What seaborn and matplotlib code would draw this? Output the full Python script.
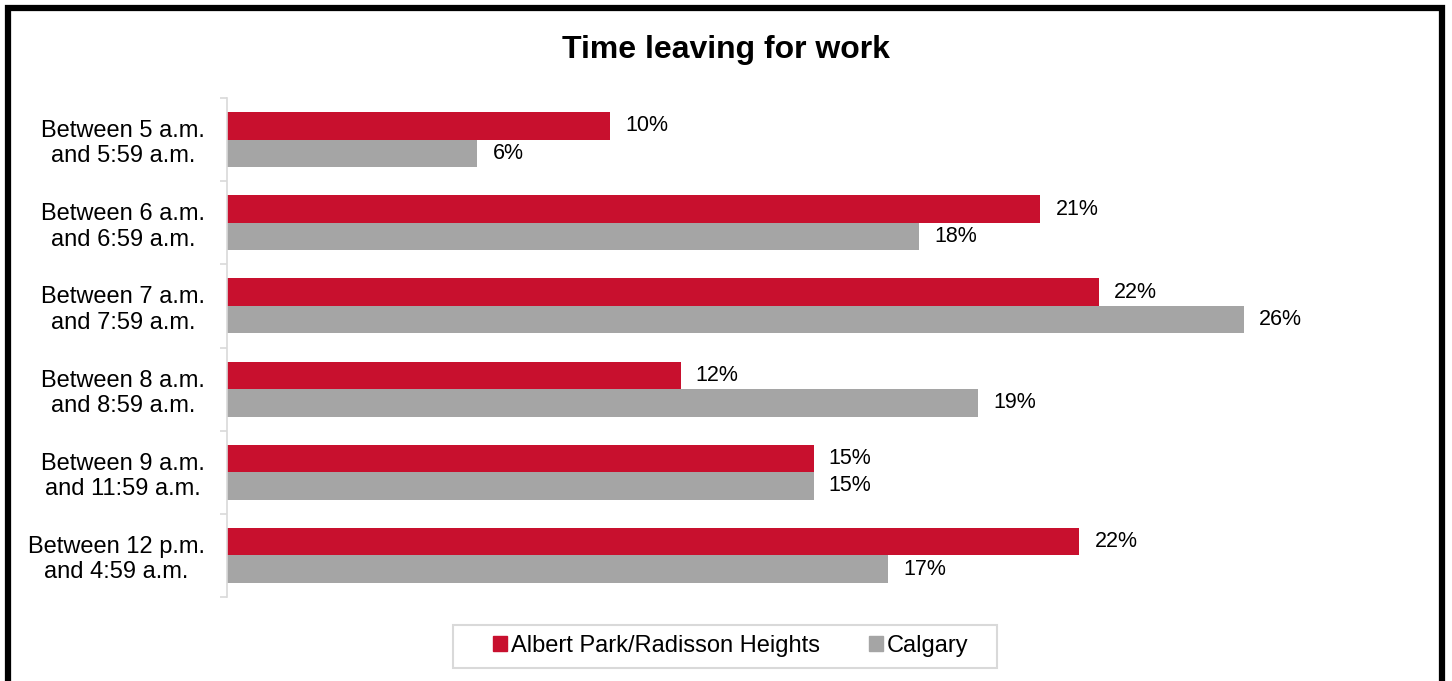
import matplotlib
matplotlib.use("Agg")
import matplotlib.pyplot as plt
import matplotlib.patches as mpatches
import seaborn as sns
import pandas as pd
import numpy as np

categories = ["Between 5 a.m.\nand 5:59 a.m.", "Between 6 a.m.\nand 6:59 a.m.",
              "Between 7 a.m.\nand 7:59 a.m.", "Between 8 a.m.\nand 8:59 a.m.",
              "Between 9 a.m.\nand 11:59 a.m.", "Between 12 p.m.\nand 4:59 a.m."]
series = ["Albert Park/Radisson Heights", "Calgary"]
albert_park = [9.8, 20.8, 22.3, 11.6, 15.0, 21.8]
calgary = [6.4, 17.7, 26.0, 19.2, 15.0, 16.9]
colors = ["#C8102E", "#A5A5A5"]

df = pd.DataFrame({
    "category": categories * 2,
    "series": [series[0]] * len(categories) + [series[1]] * len(categories),
    "value": albert_park + calgary,
})

sns.set_theme(style="white")
plt.rcParams["font.family"] = ["Liberation Sans", "DejaVu Sans"]

W, H = 1452, 681
fig = plt.figure(figsize=(W / 100, H / 100), dpi=100)
ax = fig.add_axes([227/W, 1-597/H, (1400-227)/W, (597-98)/H])

sns.barplot(data=df, x="value", y="category", hue="series", orient="h",
            palette=colors, width=0.66, ax=ax, legend=False, saturation=1,
            order=categories, hue_order=series, linewidth=0)

for cont in ax.containers:
    ax.bar_label(cont, labels=[f"{v:.0f}%" for v in cont.datavalues],
                 padding=11, fontsize=15.5, color="#000000")

ax.set_xlim(0, 30)
ax.set_ylim(len(categories) - 0.5, -0.5)
ax.set_xlabel("")
ax.set_ylabel("")
ax.set_xticks([])
for s in ["top", "right", "bottom"]:
    ax.spines[s].set_visible(False)
ax.spines["left"].set_color("#D9D9D9")
ax.spines["left"].set_linewidth(1.2)

ax.set_yticks(np.arange(len(categories)))
ax.set_yticklabels(categories, fontsize=17, multialignment="center", color="#000000")
ax.tick_params(axis="y", which="major", length=0, pad=16)
ax.set_yticks(np.arange(-0.5, len(categories), 1.0), minor=True)
ax.tick_params(axis="y", which="minor", length=5, width=1.2, color="#D9D9D9", left=True)

fig.text(0.5, 1 - 50/H, "Time leaving for work", ha="center", va="center",
         fontsize=23, fontweight="bold", color="#000000")

handles = [mpatches.Patch(color=c, label=l) for c, l in zip(colors, series)]
leg = fig.legend(handles=handles, loc="center", bbox_to_anchor=(730.5/W, 1 - 646/H),
                 ncol=2, frameon=False, fontsize=17, handlelength=0.6, handleheight=0.6,
                 handletextpad=0.15, columnspacing=2.09, borderpad=0.45,
                 labelcolor="#000000")

legend_box = mpatches.Rectangle((453/W, 1 - 668/H), (997-453)/W, (668-625)/H,
                                transform=fig.transFigure, fill=False,
                                edgecolor="#D9D9D9", linewidth=1.5)
fig.patches.append(legend_box)

frame = mpatches.Rectangle((8/W, -0.1), (1442.5-8)/W, 1 - 8/H + 0.1,
                           transform=fig.transFigure, fill=False, edgecolor="#000000",
                           linewidth=4.5, clip_on=False)
fig.patches.append(frame)

fig.savefig("out.png", dpi=100, facecolor="white")
